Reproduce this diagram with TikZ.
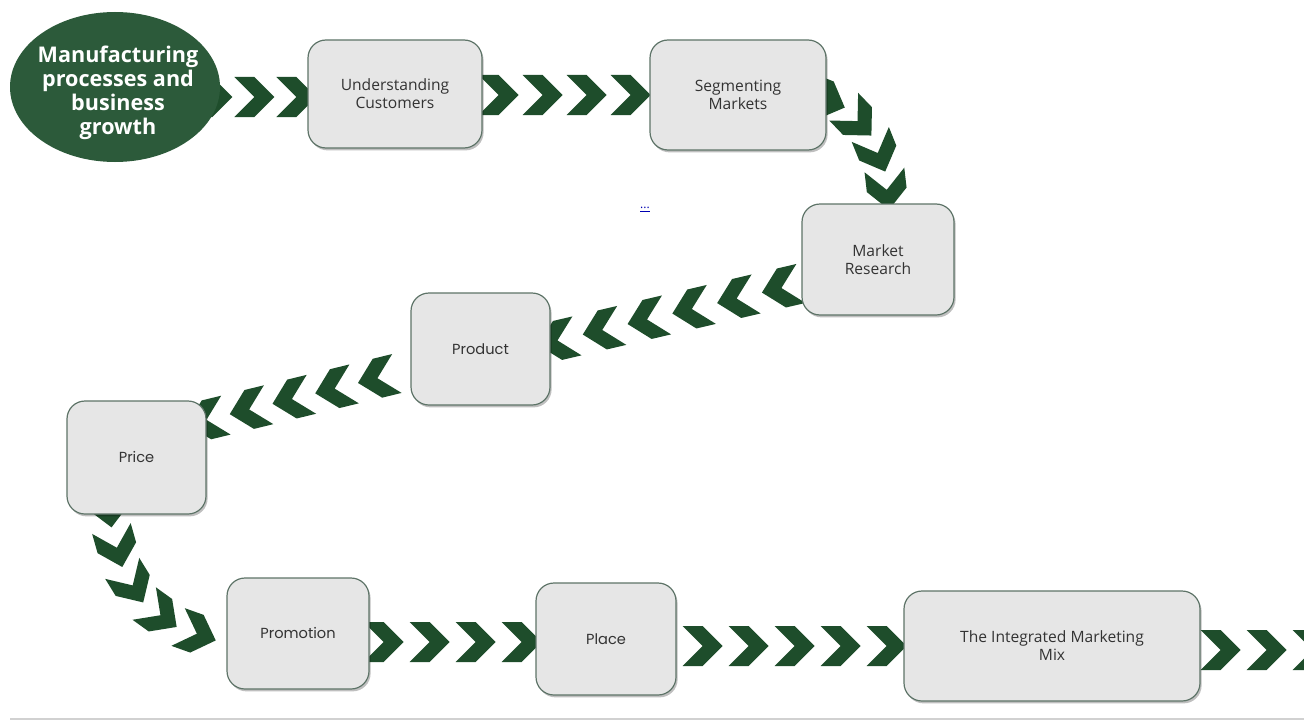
\documentclass[tikz,border=0pt]{standalone}
\usepackage{fontspec}
\setmainfont{Open Sans}
\newfontfamily\popp{Poppins}
\usetikzlibrary{shapes.geometric,shadows,decorations.markings,calc,backgrounds}
\definecolor{chevgreen}{HTML}{1E4D2B}
\definecolor{ellgreen}{HTML}{2C5A3A}
\definecolor{boxfill}{HTML}{E6E6E6}
\definecolor{boxline}{HTML}{5E7468}
\definecolor{txt}{HTML}{333333}
\newcommand{\chevshape}{\fill[chevgreen] (-10pt,10pt)--(0pt,10pt)--(10pt,0pt)--(0pt,-10pt)--(-10pt,-10pt)--(0pt,0pt)--cycle;}
\tikzset{
  stepbox/.style={draw=boxline, line width=0.6pt, fill=boxfill, rounded corners=9pt,
    align=center, text=txt, inner sep=2pt,
    font=\fontsize{7.8}{9}\selectfont,
    drop shadow={shadow xshift=0.8pt, shadow yshift=-1.2pt, opacity=0.25, fill=black}},
  geobox/.style={stepbox, font=\popp\fontsize{7.3}{9}\selectfont},
  chevs/.style n args={3}{decoration={markings,
      mark=between positions #1 and #2 step #3 with {\chevshape}},
      postaction={decorate}}
}
\begin{document}
\begin{tikzpicture}[x=0.5pt,y=-0.5pt]
\useasboundingbox (0,0) rectangle (1304,722);

% nodes
\node[ellipse, fill=ellgreen, minimum width=105pt, minimum height=75pt, inner sep=0pt] (ell) at (115,87) {};
\node[text=white, align=center, inner sep=0pt, font=\bfseries\fontsize{10.8}{12}\selectfont]
      (ellt) at ($(ell.center)+(3,6)$) {Manufacturing\\processes and\\business\\growth};
\node[stepbox, minimum width=87pt, minimum height=54pt] (uc) at (395,94) {Understanding\\Customers};
\node[stepbox, minimum width=88pt, minimum height=55pt] (sm) at (738,95) {Segmenting\\Markets};
\node[stepbox, minimum width=76pt, minimum height=55.5pt] (mr) at (878,259.5) {Market\\Research};
\node[geobox, minimum width=69.5pt, minimum height=56pt] (pr) at (480.5,349) {Product};
\node[geobox, minimum width=69.5pt, minimum height=56.5pt] (pc) at (136.5,457.5) {Price};
\node[geobox, minimum width=71pt, minimum height=55.5pt] (pm) at (298,633.5) {Promotion};
\node[geobox, minimum width=70pt, minimum height=56pt] (pl) at (606,639) {Place};
\node[stepbox, minimum width=148pt, minimum height=55pt] (im) at (1052,646) {The Integrated Marketing\\Mix};
\coordinate (out) at (1340,650);
\node[text=blue!70!black, font=\fontsize{6}{6}\selectfont, inner sep=0pt] (dots) at (645,210) {\underline{...}};

% chevron connectors
\begin{scope}[on background layer]
\fill[white] (0,0) rectangle (1304,722);
\draw[black!18, line width=0.8pt] (10,719) -- (1304,719);
\path[chevs={11pt}{60pt}{21pt}] ($(ell.east)+(-30,10)$) -- ($(uc.west)+(22,3)$);
\path[chevs={10pt}{80pt}{22pt}] ($(uc.east)+(-4,1)$) -- ($(sm.west)+(10,0)$);
\path[chevs={3pt}{65pt}{19pt}] ($(sm.east)+(-6,3)$) .. controls ($(sm.east)+(30,15)$) and ($(mr.north)+(10,-60)$) .. ($(mr.north)+(10,10)$);
\path[chevs={15.4pt}{135pt}{23pt}] ($(mr.west)+(10,21.5)$) -- ($(pr.east)+(-10,-4.6)$);
\path[chevs={21.6pt}{112pt}{22pt}] ($(pr.west)+(9,19)$) -- ($(pc.east)+(-11,-35)$);
\path[chevs={1pt}{85pt}{20.5pt}] ($(pc.south)+(-28,-9)$) .. controls ($(pc.south)+(-16,80)$) and ($(pm.west)+(-75,-6)$) .. ($(pm.west)+(13,11.5)$);
\path[chevs={11.5pt}{85pt}{23pt}] ($(pm.east)+(-9,8.5)$) -- ($(pl.west)+(10,3)$);
\path[chevs={16pt}{110pt}{23pt}] ($(pl.east)+(-6,7)$) -- ($(im.west)+(10,0)$);
\path[chevs={15pt}{62pt}{23pt}] ($(im.east)+(-10,4)$) -- (out);
\end{scope}
\end{tikzpicture}
\end{document}
